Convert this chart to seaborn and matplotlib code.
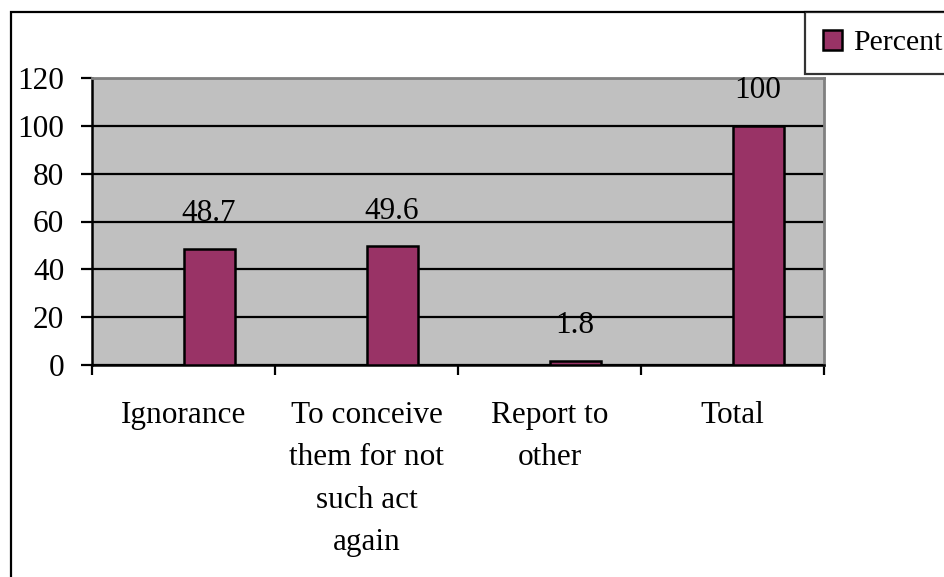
import matplotlib
matplotlib.use("Agg")
import matplotlib.pyplot as plt
from matplotlib.patches import Rectangle
import seaborn as sns
import pandas as pd

categories = ["Ignorance", "To conceive\nthem for not\nsuch act\nagain", "Report to\nother", "Total"]
percent = [48.7, 49.6, 1.8, 100]
y_ticks = [0, 20, 40, 60, 80, 100, 120]
series_name = "Percent"

df = pd.DataFrame({"category": categories, "value": percent})

sns.set_theme(style="white")
plt.rcParams["font.family"] = ["Liberation Serif", "DejaVu Serif"]
plt.rcParams["text.color"] = "black"
plt.rcParams["xtick.color"] = "black"
plt.rcParams["ytick.color"] = "black"
plt.rcParams["xtick.labelcolor"] = "black"
plt.rcParams["ytick.labelcolor"] = "black"

W, H = 945, 577
FS = 22.5
fig = plt.figure(figsize=(W / 100, H / 100), dpi=100)

# outer chart frame (right and bottom edges run off the canvas)
fig.patches.append(Rectangle((11 / W, -0.05), 1.1, (577 - 12) / H + 0.05,
                             transform=fig.transFigure, fill=False,
                             edgecolor="black", linewidth=1.6, zorder=0))

ax = fig.add_axes([92 / W, (577 - 365) / H, 732 / W, 287 / H])
ax.set_facecolor("#C0C0C0")

bar_color = "#993366"
sns.barplot(data=df, x="category", y="value", color=bar_color, width=0.28,
            edgecolor="black", linewidth=1.8, saturation=1, ax=ax, zorder=3)

# bars sit in the right half of each category slot
shift = 0.14
for p in ax.patches:
    p.set_x(p.get_x() + shift)

for p, v in zip(ax.patches, percent):
    ax.annotate(f"{v:g}", (p.get_x() + p.get_width() / 2, p.get_height()),
                xytext=(0, 20), textcoords="offset points",
                ha="center", va="baseline", fontsize=FS, color="black",
                zorder=5, annotation_clip=False)

ax.set_xlim(-0.5, len(categories) - 0.5)
ax.set_ylim(0, 120)
ax.set_yticks(y_ticks)
ax.set_yticklabels([str(t) for t in y_ticks], fontsize=FS, color="black")
ax.yaxis.grid(True, color="black", linewidth=1.6, zorder=1)
ax.set_axisbelow(True)

ax.set_xticks(range(len(categories)))
ax.set_xticklabels(categories, fontsize=FS, linespacing=1.6, va="top", color="black")
ax.tick_params(axis="x", which="major", length=0, pad=26)
ax.set_xticks([i - 0.5 for i in range(len(categories) + 1)], minor=True)
ax.tick_params(axis="x", which="minor", length=7, width=1.6, color="black", direction="out")
ax.tick_params(axis="y", length=8, width=1.6, color="black", direction="out", pad=12)
ax.tick_params(axis="x", bottom=True, which="both")
ax.tick_params(axis="y", left=True)
ax.set_xlabel("")
ax.set_ylabel("")

for s in ["left", "bottom"]:
    ax.spines[s].set_color("black")
    ax.spines[s].set_linewidth(1.8)
for s in ["top", "right"]:
    ax.spines[s].set_visible(True)
    ax.spines[s].set_color("#808080")
    ax.spines[s].set_linewidth(2)

# legend box in the top right corner
leg = fig.legend(handles=[Rectangle((0, 0), 1, 1, facecolor=bar_color, edgecolor="black", linewidth=1.8)],
                 labels=[series_name], loc="upper left", bbox_to_anchor=(805 / W, 1 - 12 / H),
                 frameon=True, fancybox=False, fontsize=21.5, handlelength=0.65, handleheight=0.65,
                 handletextpad=0.35, borderpad=0.6, borderaxespad=0)
leg.get_frame().set_edgecolor("black")
leg.get_frame().set_linewidth(1.6)
for t in leg.get_texts():
    t.set_color("black")

fig.savefig("out.png", dpi=100)
